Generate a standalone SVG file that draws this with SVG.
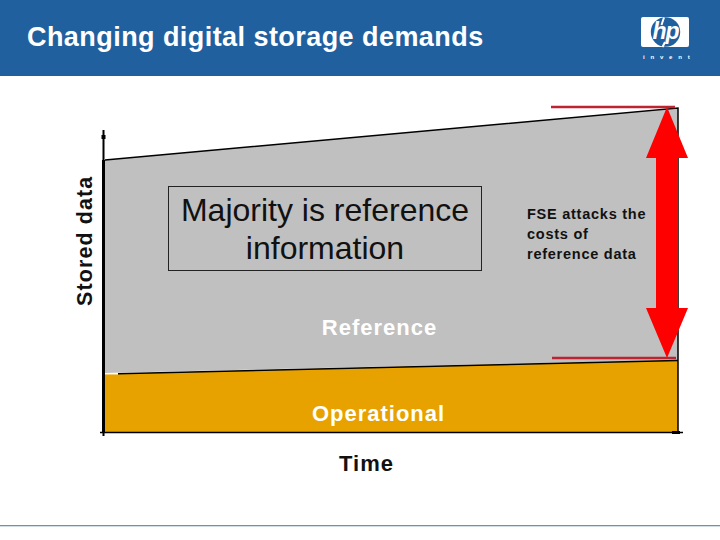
<svg xmlns="http://www.w3.org/2000/svg" width="720" height="540" viewBox="0 0 720 540">
<style>
text{font-family:"Liberation Sans",Arial,sans-serif}
.ax{stroke:#000;fill:none}
.rl{stroke:#bd2330;stroke-width:2.500;fill:none}
.lab{fill:#fff;font-size:22px;font-weight:bold;text-anchor:middle;letter-spacing:1px}
.fse{font-size:14.5px;font-weight:bold;fill:#111;letter-spacing:.75px}
.maj{font-size:32px;text-anchor:middle;fill:#111}
</style>
<rect width="720" height="540" fill="#fff"/>
<g id="header">
<rect width="720" height="76" fill="#21609f"/>
<text x="27" y="45.500" font-size="27" font-weight="bold" fill="#fff" letter-spacing=".44">Changing digital storage demands</text>
</g>
<g id="logo">
<rect x="641" y="17" width="48" height="30" rx="2" fill="#fff"/>
<circle cx="665.500" cy="32" r="14.700" fill="#21609f"/>
<path d="M661.500 25 L664 17.500 M665 42 L662.500 47" stroke="#fff" stroke-width="2" fill="none"/>
<text x="665.500" y="38.500" font-size="23" font-weight="bold" font-style="italic" fill="#fff" text-anchor="middle" letter-spacing="-1">hp</text>
<text x="643" y="59" font-size="6" font-weight="bold" fill="#fff" letter-spacing="5.800">invent</text>
</g>
<g id="reference-area">
<polygon points="105,160 678,108 678,360 105,373" fill="#c0c0c0"/>
<path d="M105 160 L678 108 L678 360" class="ax" stroke-width="1.5"/>
<text x="379.500" y="334.500" class="lab">Reference</text>
</g>
<g id="operational-area">
<polygon points="105,374 678,360 678,432 105,432" fill="#e8a200"/>
<path d="M105 373.700 H118" stroke="#fff" stroke-width="1.500" fill="none"/>
<path d="M118 373.700 L678 360.500" class="ax" stroke-width="1.5"/>
<path d="M678 360 V432" class="ax" stroke-width="1.5"/>
<text x="378.500" y="420.500" class="lab">Operational</text>
</g>
<g id="axes">
<path d="M103.500 130 V436" class="ax" stroke-width="2"/>
<path d="M103.500 160 V432" class="ax" stroke-width="3"/>
<path d="M100 432.500 H683" class="ax" stroke-width="1.500"/>
<path d="M672 432.500 H680" class="ax" stroke-width="3"/>
<path d="M103.500 135 V139" class="ax" stroke-width="4"/>
</g>
<g id="axis-labels">
<text transform="translate(92 306) rotate(-90)" font-size="21.5" font-weight="bold" fill="#111" letter-spacing="1.1">Stored data</text>
<text x="366.500" y="470.500" font-size="22" font-weight="bold" fill="#111" text-anchor="middle" letter-spacing="1">Time</text>
</g>
<g id="majority">
<rect x="168.500" y="186.500" width="313" height="84" fill="#c0c0c0" stroke="#222" stroke-width="1"/>
<text x="325" y="221" class="maj">Majority is reference</text>
<text x="325" y="259" class="maj">information</text>
</g>
<g id="fse-note">
<text x="527" y="219" class="fse">FSE attacks the</text>
<text x="527" y="239" class="fse">costs of</text>
<text x="527" y="259" class="fse">reference data</text>
</g>
<g id="connectors">
<path d="M551 107 H675" class="rl"/>
<path d="M552 358 H676" class="rl"/>
<polygon points="667,107 688,158 678,158 678,308 688,308 667,358 646,308 656,308 656,158 646,158" fill="#ff0000"/>
</g>
<g id="footer">
<rect x="0" y="525" width="720" height="1.300" fill="#6b93ab"/>
</g>
</svg>
